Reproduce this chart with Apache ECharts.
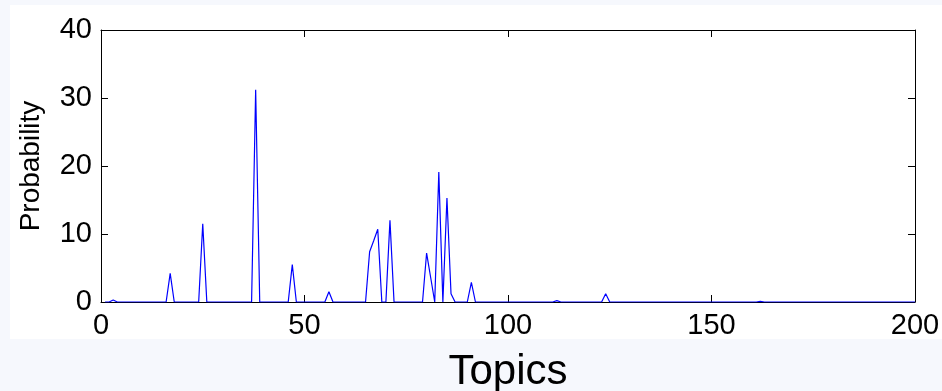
<!DOCTYPE html>
<html>
<head>
<meta charset="utf-8">
<style>
  html, body { margin: 0; padding: 0; background: #f6f8fd; }
  #chart { width: 942px; height: 391px; }
</style>
<script src="https://cdn.jsdelivr.net/npm/echarts@6/dist/echarts.min.js"></script>
</head>
<body>
<div id="chart"></div>
<script>
/* topic probabilities (every other topic is 0) */
var topicCount = 200;
var peakTopics = [3, 17, 25, 38, 47, 56, 66, 67, 68, 71, 80, 81, 83, 85, 86, 91, 112, 124, 162];
var peakValues = [0.3, 4.2, 11.5, 31.2, 5.5, 1.5, 7.4, 9.0, 10.7, 12.0, 7.2, 3.6, 19.1, 15.3, 1.2, 2.9, 0.2, 1.2, 0.1];
var xTicks = [0, 50, 100, 150, 200];
var yTicks = [0, 10, 20, 30, 40];

var font = 'Liberation Sans, Arial, sans-serif';

// build the full line: one point per topic
var lineData = [];
for (var t = 1; t <= topicCount; t++) {
	var k = peakTopics.indexOf(t);
	lineData.push([t, k >= 0 ? peakValues[k] : 0]);
}

var chart = echarts.init(document.getElementById('chart'));

function tickStyle() {
	return { show: true, inside: true, length: 7, lineStyle: { color: '#000', width: 1 } };
}
function axisLine() {
	return { show: true, onZero: false, lineStyle: { color: '#000', width: 1 } };
}

chart.setOption({
	backgroundColor: '#f6f8fd',
	animation: false,
	graphic: [{
		type: 'rect',
		z: -10,
		shape: { x: 10, y: 5, width: 932, height: 334 },
		style: { fill: '#ffffff' }
	}],
	grid: {
		left: 101, right: 27, top: 30, bottom: 89,
		outerBoundsMode: 'none',
		containLabel: false
	},
	xAxis: [{
		type: 'value',
		min: xTicks[0],
		max: xTicks[xTicks.length - 1],
		interval: 50,
		name: 'Topics',
		nameLocation: 'middle',
		nameGap: 49,
		nameTextStyle: { fontFamily: font, fontSize: 42, color: '#000' },
		axisLine: axisLine(),
		axisTick: tickStyle(),
		splitLine: { show: false },
		axisLabel: { fontFamily: font, fontSize: 29, color: '#000', margin: 9 }
	}, {
		type: 'value',
		position: 'top',
		min: xTicks[0],
		max: xTicks[xTicks.length - 1],
		interval: 50,
		axisLine: axisLine(),
		axisTick: tickStyle(),
		splitLine: { show: false },
		axisLabel: { show: false }
	}],
	yAxis: [{
		type: 'value',
		min: yTicks[0],
		max: yTicks[yTicks.length - 1],
		interval: 10,
		name: 'Probability',
		nameLocation: 'middle',
		nameGap: 56,
		nameTextStyle: { fontFamily: font, fontSize: 28, color: '#000' },
		axisLine: axisLine(),
		axisTick: tickStyle(),
		splitLine: { show: false },
		axisLabel: { fontFamily: font, fontSize: 29, color: '#000', margin: 9 }
	}, {
		type: 'value',
		position: 'right',
		min: yTicks[0],
		max: yTicks[yTicks.length - 1],
		interval: 10,
		axisLine: axisLine(),
		axisTick: tickStyle(),
		splitLine: { show: false },
		axisLabel: { show: false }
	}],
	series: [{
		type: 'line',
		xAxisIndex: 0,
		yAxisIndex: 0,
		data: lineData,
		showSymbol: false,
		symbol: 'none',
		lineStyle: { color: '#0000ff', width: 1.2 },
		z: 5
	}]
});
</script>
</body>
</html>
